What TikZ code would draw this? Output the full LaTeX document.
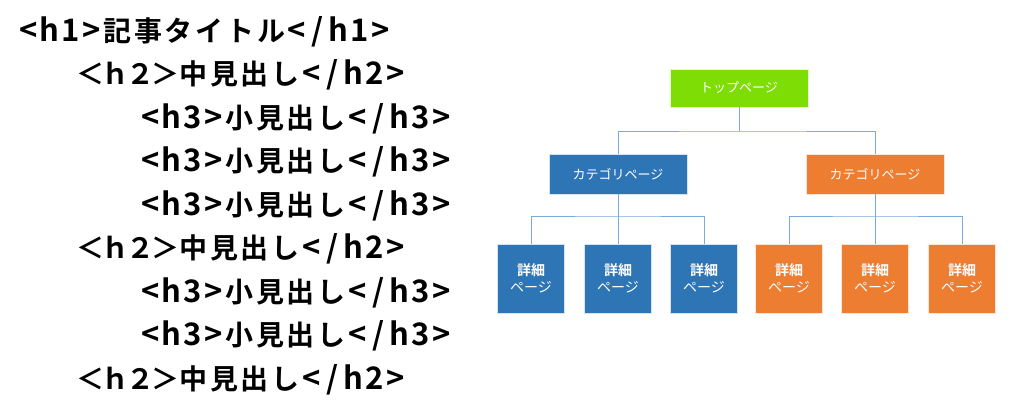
\documentclass[tikz,border=0pt]{standalone}
\usepackage{fontspec}
\newfontfamily\cjk{Noto Sans CJK JP}
\newfontfamily\cjkb{Noto Sans CJK JP Bold}
\definecolor{topgreen}{HTML}{7EDD05}
\definecolor{catblue}{HTML}{2E75B6}
\definecolor{catorange}{HTML}{ED7D31}
\definecolor{linkblue}{HTML}{7AAADC}
% fixed-advance character runs
\newcommand\chw{21pt}
\def\runloop#1{\ifx#1\relax\else\makebox[\chw][c]{#1}\expandafter\runloop\fi}
\newcommand\hw[1]{{\fontsize{31}{33}\selectfont\def\chw{21pt}\runloop#1\relax}}
\newcommand\fw[1]{{\def\chw{30.7pt}\runloop#1\relax}}
\newcommand\zw[1]{{\def\chw{25pt}\runloop#1\relax}}
\tikzset{
  code/.style={anchor=base west, inner sep=0pt, font=\cjkb\fontsize{28}{30}\selectfont, text=black},
  box/.style={draw=white!80!#1, line width=0.8pt, fill=#1, text=white, inner sep=0pt, align=center},
  link/.style={draw=linkblue, line width=1pt},
}
\begin{document}
\begin{tikzpicture}[x=1pt,y=-1pt]
\useasboundingbox (0,0) rectangle (1024,407);
% left code text
\node[code] (l1) at (18,41) {\hw{<h1>}\fw{記事タイトル}\hw{</h1>}};
\node[code] (l2) at (78,84.5) {\zw{＜ｈ２＞}\fw{中見出し}\hw{</h2>}};
\node[code] (l3) at (140,128) {\hw{<h3>}\fw{小見出し}\hw{</h3>}};
\node[code] (l4) at (140,171.5) {\hw{<h3>}\fw{小見出し}\hw{</h3>}};
\node[code] (l5) at (140,215) {\hw{<h3>}\fw{小見出し}\hw{</h3>}};
\node[code] (l6) at (78,258.5) {\zw{＜ｈ２＞}\fw{中見出し}\hw{</h2>}};
\node[code] (l7) at (140,302) {\hw{<h3>}\fw{小見出し}\hw{</h3>}};
\node[code] (l8) at (140,345.5) {\hw{<h3>}\fw{小見出し}\hw{</h3>}};
\node[code] (l9) at (78,389) {\zw{＜ｈ２＞}\fw{中見出し}\hw{</h2>}};
% tree
\node[box=topgreen, minimum width=138pt, minimum height=38pt, font=\cjk\fontsize{13}{15}\selectfont] (top) at (739,88) {トップページ};
\node[box=catblue, minimum width=138pt, minimum height=40pt, font=\cjk\fontsize{13}{15}\selectfont] (c1) at (618,174) {カテゴリページ};
\node[box=catorange, minimum width=138pt, minimum height=40pt, font=\cjk\fontsize{13}{15}\selectfont] (c2) at (875,174) {カテゴリページ};
\foreach \n/\x/\c in {d1/531/catblue, d2/618/catblue, d3/704/catblue, d4/789/catorange, d5/875/catorange, d6/962/catorange}{
  \node[box=\c, minimum width=67pt, minimum height=69pt, font=\cjk\fontsize{14}{17.5}\selectfont] (\n) at (\x,278.5) {{\cjkb 詳細}\\ページ};
}
\coordinate (j0) at (739,131);
\coordinate (j1) at (618,216);
\coordinate (j2) at (875,216);
\draw[link] (top.south) -- (j0);
\draw[link] (c1.north) |- (j0) -| (c2.north);
\draw[link] (c1.south) -- (j1);
\draw[link] (d1.north) |- (j1) -| (d3.north);
\draw[link] (j1) -- (d2.north);
\draw[link] (c2.south) -- (j2);
\draw[link] (d4.north) |- (j2) -| (d6.north);
\draw[link] (j2) -- (d5.north);
\end{tikzpicture}
\end{document}
